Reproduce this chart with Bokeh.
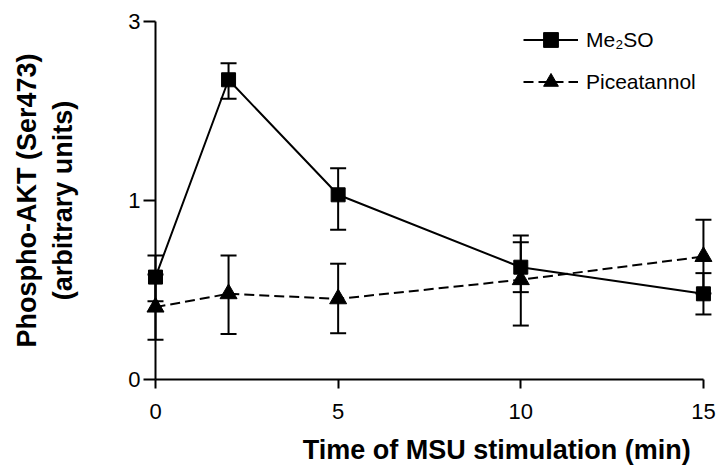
import numpy as np
from bokeh.plotting import figure
from bokeh.models import ColumnDataSource, Whisker, TeeHead, FixedTicker, Range1d, Label
from bokeh.embed import file_html
from bokeh.resources import INLINE

time_min = [0, 2, 5, 10, 15]

me2so_mean = [0.486, 2.188, 1.043, 0.544, 0.393]
me2so_upper = [0.616, 2.399, 1.265, 0.701, 0.509]
me2so_lower = [0.354, 1.962, 0.784, 0.402, 0.286]

pice_mean = [0.323, 0.393, 0.366, 0.471, 0.609]
pice_upper = [0.501, 0.616, 0.565, 0.745, 0.855]
pice_lower = [0.166, 0.193, 0.196, 0.232, 0.395]

x_tick_values = [0, 5, 10, 15]
y_tick_values = [0, 1, 3]

series_names = ["Me\u2082SO", "Piceatannol"]
x_label = "Time of MSU stimulation (min)"
y_label = "Phospho-AKT (Ser473)\n(arbitrary units)"


def tr(v):
    # axis is spaced as log2(1 + value)
    return np.log2(1.0 + np.asarray(v, dtype=float))


FONT = "Liberation Sans"

# the frame fills the whole canvas; both axes are pinned at data 0 inside it
p = figure(width=717, height=466, output_backend="svg", toolbar_location=None,
           x_range=Range1d(-4.243, 15.385), y_range=Range1d(-0.4855, 2.115),
           min_border_left=0, min_border_right=0, min_border_top=0,
           min_border_bottom=0)
p.title.visible = False
p.outline_line_color = None
p.xgrid.visible = False
p.ygrid.visible = False
p.background_fill_color = "white"

src_a = ColumnDataSource(dict(x=time_min, y=tr(me2so_mean), up=tr(me2so_upper), lo=tr(me2so_lower)))
src_b = ColumnDataSource(dict(x=time_min, y=tr(pice_mean), up=tr(pice_upper), lo=tr(pice_lower)))

for src in (src_b, src_a):
    w = Whisker(source=src, base="x", upper="up", lower="lo", dimension="height",
                line_width=2, line_color="black",
                upper_head=TeeHead(size=16, line_width=2, line_color="black"),
                lower_head=TeeHead(size=16, line_width=2, line_color="black"))
    p.add_layout(w)

p.line("x", "y", source=src_a, line_width=2, color="black", legend_label=series_names[0])
p.scatter("x", "y", source=src_a, marker="square", size=14, color="black", legend_label=series_names[0])
p.line("x", "y", source=src_b, line_width=2, color="black", line_dash="10 5", legend_label=series_names[1])
p.scatter("x", "y", source=src_b, marker="triangle", size=17, color="black", legend_label=series_names[1])

# x axis
xa = p.xaxis[0]
xa.ticker = FixedTicker(ticks=x_tick_values)
xa.bounds = (0, 15)
xa.fixed_location = 0
xa.minor_tick_line_color = None
xa.major_tick_in = 0
xa.major_tick_out = 9
xa.axis_line_width = 2
xa.major_tick_line_width = 2
xa.major_label_standoff = 15
xa.major_label_text_font = FONT
xa.major_label_text_font_size = "22px"
xa.major_label_text_color = "black"

# y axis
ya = p.yaxis[0]
ya.ticker = FixedTicker(ticks=[float(t) for t in tr(y_tick_values)])
ya.major_label_overrides = {float(t): str(v) for t, v in zip(tr(y_tick_values), y_tick_values)}
ya.bounds = (0, float(tr(3)))
ya.fixed_location = 0
ya.minor_tick_line_color = None
ya.major_tick_in = 0
ya.major_tick_out = 12
ya.axis_line_width = 2
ya.major_tick_line_width = 2
ya.major_label_standoff = 3
ya.major_label_text_font = FONT
ya.major_label_text_font_size = "22px"
ya.major_label_text_color = "black"
ya.axis_label = y_label
ya.axis_label_text_font = FONT
ya.axis_label_text_font_size = "27px"
ya.axis_label_text_font_style = "bold"
ya.axis_label_text_color = "black"
ya.axis_label_standoff = 47

p.add_layout(Label(x=14.65, y=-0.396, text=x_label, text_align="right", text_baseline="middle",
                   text_font=FONT, text_font_size="27px", text_font_style="bold",
                   text_color="black"))

lg = p.legend[0]
lg.location = (523, 366)
lg.margin = 0
lg.padding = 0
lg.spacing = 5
lg.glyph_width = 55
lg.glyph_height = 37
lg.label_height = 37
lg.label_standoff = 8
lg.label_text_font = FONT
lg.label_text_font_size = "21px"
lg.label_text_color = "black"
lg.background_fill_alpha = 0
lg.border_line_alpha = 0

open("out.html", "w").write(file_html(p, INLINE))
